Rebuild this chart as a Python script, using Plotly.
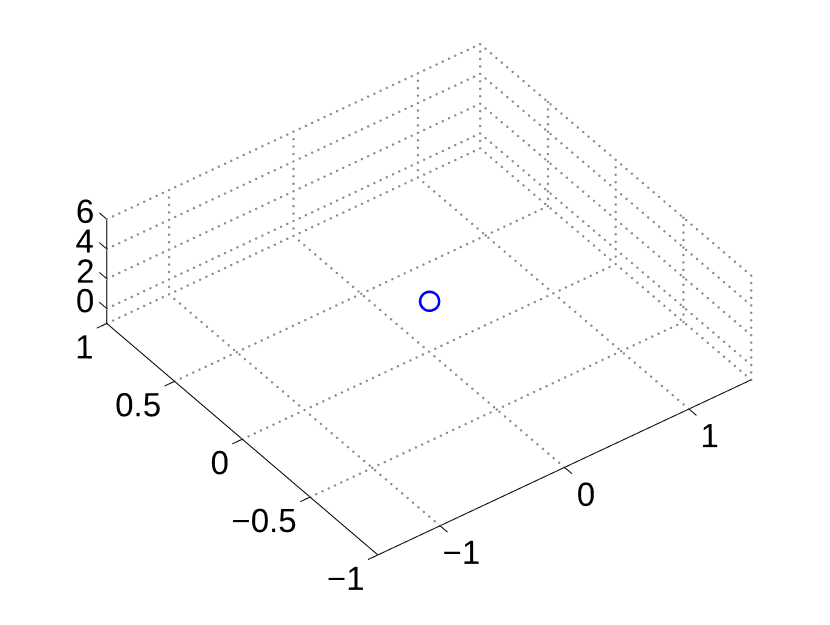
import numpy as np
import plotly.graph_objects as go

# data
pt_x = [0]
pt_y = [0]
pt_z = [2.4]

x_range = [-1.5, 1.5]
y_range = [-1, 1]
z_range = [-1, 6]
x_ticks = [-1, 0, 1]
x_ticklabels = ["\u22121", "0", "1"]
y_ticks = [-1, -0.5, 0, 0.5, 1]
y_ticklabels = ["\u22121", "\u22120.5", "0", "0.5", "1"]
z_ticks = [0, 2, 4, 6]
z_ticklabels = ["0", "2", "4", "6"]

x0, x1 = x_range
y0, y1 = y_range
z0, z1 = z_range

# dotted grid drawn as small dots along each grid line
step = np.array([0.05, 0.04, 0.5])
dx, dy, dz = [], [], []

def dots(a, b):
    a = np.array(a, float)
    b = np.array(b, float)
    n = int(np.max(np.abs(b - a) / step)) + 1
    t = np.linspace(0, 1, n)
    p = a[None, :] + t[:, None] * (b - a)[None, :]
    dx.extend(p[:, 0]); dy.extend(p[:, 1]); dz.extend(p[:, 2])

for xv in x_ticks:
    dots((xv, y0, z0), (xv, y1, z0))
    dots((xv, y1, z0), (xv, y1, z1))
for yv in y_ticks[1:-1]:
    dots((x0, yv, z0), (x1, yv, z0))
    dots((x1, yv, z0), (x1, yv, z1))
for zv in z_ticks:
    dots((x0, y1, zv), (x1, y1, zv))
    dots((x1, y0, zv), (x1, y1, zv))
dots((x0, y1, z0), (x1, y1, z0))
dots((x1, y0, z0), (x1, y1, z0))
dots((x1, y1, z0), (x1, y1, z1))
dots((x1, y0, z0), (x1, y0, z1))

# solid axes with tick marks
sx, sy, sz = [], [], []

def seg(a, b):
    sx.extend([a[0], b[0], None]); sy.extend([a[1], b[1], None]); sz.extend([a[2], b[2], None])

seg((x0, y0, z0), (x1, y0, z0))
seg((x0, y0, z0), (x0, y1, z0))
seg((x0, y1, z0), (x0, y1, z1))
for xv in x_ticks:
    seg((xv, y0, z0), (xv, y0 - 0.055, z0))
for yv in y_ticks:
    seg((x0, yv, z0), (x0 - 0.08, yv, z0))
for zv in z_ticks:
    seg((x0, y1, zv), (x0, y1 + 0.055, zv))

font = dict(family='Liberation Sans', size=33, color='black')

fig = go.Figure()
fig.add_trace(go.Scatter3d(
    x=dx, y=dy, z=dz, mode='markers',
    marker=dict(size=1.4, color='#8a8a8a', line=dict(width=0)),
    hoverinfo='skip', showlegend=False
))
fig.add_trace(go.Scatter3d(
    x=sx, y=sy, z=sz, mode='lines',
    line=dict(color='black', width=2),
    hoverinfo='skip', showlegend=False
))
fig.add_trace(go.Scatter3d(
    x=[xv + 0.23 for xv in x_ticks], y=[y0 + 0.056] * len(x_ticks), z=[z0 - 0.13] * len(x_ticks),
    mode='text', text=x_ticklabels, textposition='bottom center', textfont=font,
    hoverinfo='skip', showlegend=False
))
fig.add_trace(go.Scatter3d(
    x=[x0 + 0.062] * len(y_ticks), y=[yv - 0.077 for yv in y_ticks], z=[z0 - 1.2] * len(y_ticks),
    mode='text', text=y_ticklabels, textposition='middle left', textfont=font,
    hoverinfo='skip', showlegend=False
))
fig.add_trace(go.Scatter3d(
    x=[x0 + 0.1955] * len(z_ticks), y=[y1 + 0.039] * len(z_ticks), z=[zv - 0.52 for zv in z_ticks],
    mode='text', text=z_ticklabels, textposition='middle left', textfont=font,
    hoverinfo='skip', showlegend=False
))
fig.add_trace(go.Scatter3d(
    x=pt_x, y=pt_y, z=pt_z, mode='markers',
    marker=dict(symbol='circle-open', size=12, color='blue', line=dict(color='blue', width=1.5)),
    hoverinfo='skip', showlegend=False
))

hidden = dict(visible=False, showspikes=False)

fig.update_layout(
    width=830, height=625,
    paper_bgcolor='white',
    margin=dict(l=0, r=0, t=0, b=0),
    hovermode=False,
    scene=dict(
        domain=dict(x=[0.0252, 0.9892], y=[0.067, 1]),
        xaxis=dict(range=[-1.8, 1.8], **hidden),
        yaxis=dict(range=[-1.2, 1.2], **hidden),
        zaxis=dict(range=[-2.5, 7.5], **hidden),
        aspectmode='manual',
        aspectratio=dict(x=1.913, y=1.874, z=0.660),
        camera=dict(
            projection=dict(type='orthographic'),
            up=dict(x=0, y=0, z=1),
            eye=dict(x=-0.461 * 1.36, y=-0.622 * 1.36, z=0.633 * 1.36),
        ),
    ),
)

fig.write_html("out.html")
